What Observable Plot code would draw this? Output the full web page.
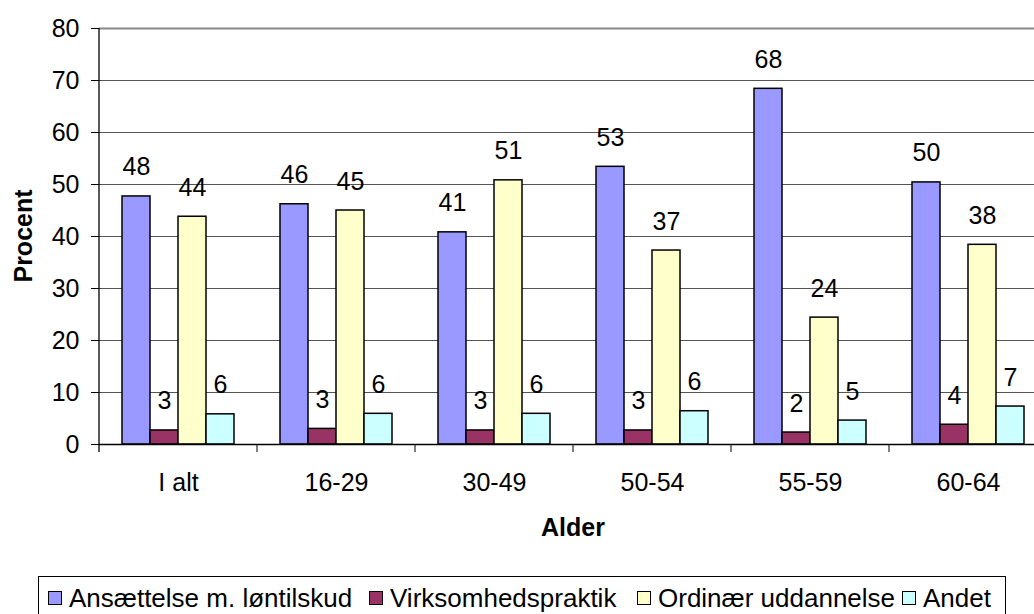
<!DOCTYPE html>
<html><head><meta charset="utf-8">
<script src="https://cdn.jsdelivr.net/npm/d3@7"></script>
<script src="https://cdn.jsdelivr.net/npm/@observablehq/plot@0.6"></script>
<style>
html,body{margin:0;padding:0;background:#fff;}
#wrap{position:relative;width:1034px;height:614px;overflow:hidden;font-family:"Liberation Sans",Arial,sans-serif;}
#chart{position:absolute;left:0;top:0;width:1060px;}
#chart svg{max-width:none !important;}
#legend{position:absolute;left:38px;top:576px;width:968px;height:48px;border:1px solid #000;box-sizing:border-box;}
.item{position:absolute;top:0;height:42px;display:flex;align-items:center;font-size:26px;white-space:nowrap;color:#000;}
.sw{width:12px;height:12px;border:1px solid #000;margin-right:7px;flex:none;}
</style></head>
<body>
<div id="wrap"><div id="chart"></div><div id="legend"></div></div>
<script>
const groups = ["I alt", "16-29", "30-49", "50-54", "55-59", "60-64"];
const series = ["Ansættelse m. løntilskud", "Virksomhedspraktik", "Ordinær uddannelse", "Andet"];
const colors = ["#9999FF", "#993366", "#FFFFCC", "#CCFFFF"];
const ansaettelse = [47.7, 46.2, 40.8, 53.4, 68.4, 50.4];
const virksomhedspraktik = [2.7, 3.0, 2.7, 2.7, 2.3, 3.8];
const ordinaer = [43.8, 45.0, 50.8, 37.3, 24.4, 38.4];
const andet = [5.8, 5.9, 5.9, 6.4, 4.6, 7.3];
const yTicks = [0, 10, 20, 30, 40, 50, 60, 70, 80];

const seriesValues = [ansaettelse, virksomhedspraktik, ordinaer, andet];
const data = groups.flatMap((g, i) => series.map((s, j) => ({group: g, series: s, value: seriesValues[j][i]})));

const chart = Plot.plot({
  width: 1060,
  height: 548,
  marginLeft: 98,
  marginRight: 12,
  marginTop: 28,
  marginBottom: 104,
  style: {fontFamily: "'Liberation Sans', Arial, sans-serif", fontSize: "25px", color: "#000", background: "transparent", overflow: "visible", maxWidth: "none"},
  fx: {domain: groups, padding: 0, label: null, axis: "bottom", tickSize: 0, tickPadding: 29},
  x: {domain: series, paddingInner: 0, paddingOuter: 0.76, axis: null},
  y: {domain: [0, 80], ticks: yTicks, tickSize: 8, tickPadding: 12, label: null},
  color: {domain: series, range: colors},
  marks: [
    Plot.ruleY(yTicks.filter(t => t > 0 && t < 80), {stroke: "#555", strokeWidth: 1}),
    Plot.ruleY([80], {stroke: "#888", strokeWidth: 2}),
    Plot.barY(data, {fx: "group", x: "series", y: "value", fill: "series", stroke: "#000", strokeWidth: 1.5}),
    Plot.text(data, {fx: "group", x: "series", y: "value", text: d => d3.format(".0f")(d.value), dy: -29, fontSize: 25, fill: "#000"}),
    Plot.ruleY([0], {stroke: "#000", strokeWidth: 1.5})
  ]
});
document.getElementById("chart").appendChild(chart);

const svg = d3.select(chart);
const fx = chart.scale("fx");
const y = chart.scale("y");
const y0 = y.apply(0), yTop = y.apply(80);
const left = fx.apply(groups[0]);
const bw = fx.bandwidth;
// left axis line
svg.append("line").attr("x1", left).attr("x2", left).attr("y1", yTop).attr("y2", y0 + 8)
  .attr("stroke", "#000").attr("stroke-width", 1.3);
// group boundary ticks
groups.forEach(g => {
  const xb = fx.apply(g) + bw;
  svg.append("line").attr("x1", xb).attr("x2", xb).attr("y1", y0).attr("y2", y0 + 8)
    .attr("stroke", "#000").attr("stroke-width", 1);
});
// axis titles
svg.append("text").attr("transform", `translate(32,${(y0 + yTop) / 2}) rotate(-90)`)
  .attr("text-anchor", "middle").attr("font-weight", "bold").attr("font-size", 25).text("Procent");
svg.append("text").attr("x", left + bw * groups.length / 2).attr("y", 536)
  .attr("text-anchor", "middle").attr("font-weight", "bold").attr("font-size", 25).text("Alder");

// legend
const legendLefts = [9, 330, 598, 863];
const legend = d3.select("#legend");
series.forEach((s, i) => {
  const it = legend.append("div").attr("class", "item").style("left", legendLefts[i] + "px");
  it.append("div").attr("class", "sw").style("background", colors[i]);
  it.append("span").text(s);
});
</script>
</body></html>
